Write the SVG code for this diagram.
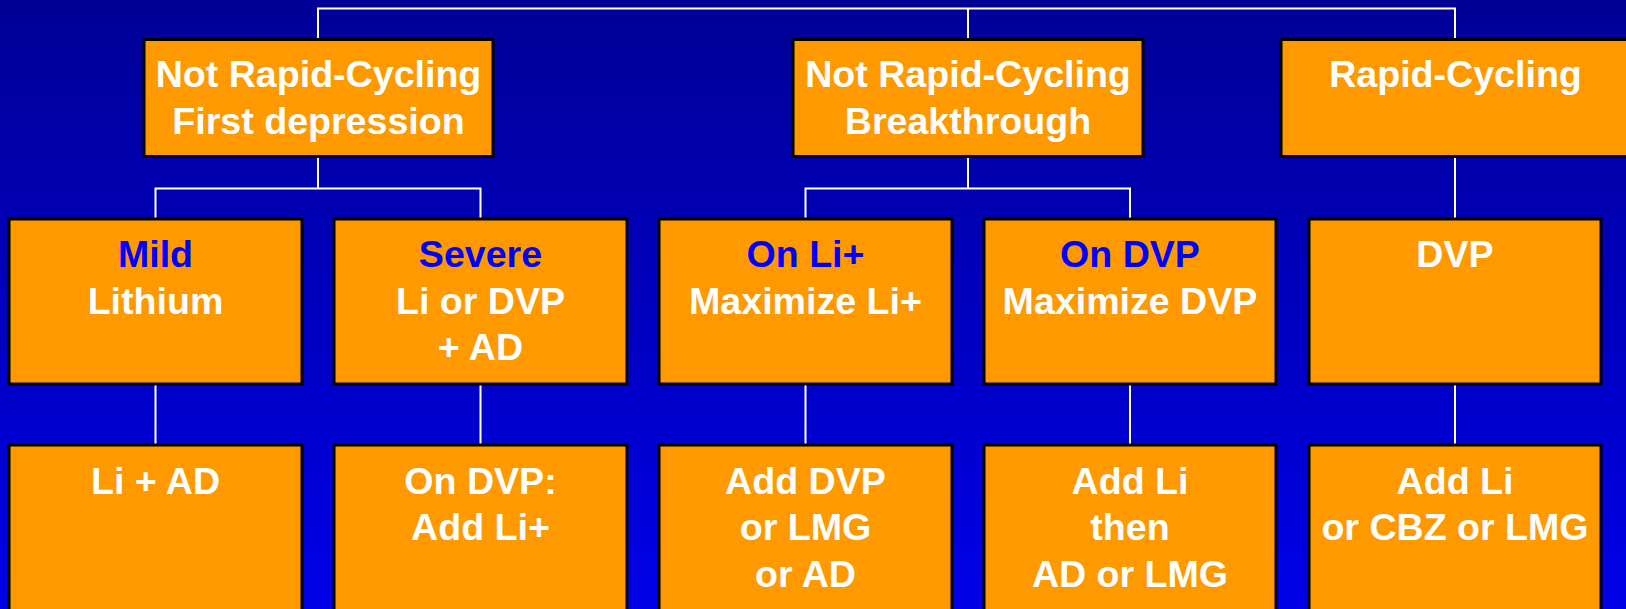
<svg xmlns="http://www.w3.org/2000/svg" width="1626" height="609" viewBox="0 0 1626 609">
  <defs>
    <linearGradient id="bg" x1="0" y1="0" x2="0" y2="1">
      <stop offset="0" stop-color="#000096"/>
      <stop offset="1" stop-color="#0000e8"/>
    </linearGradient>
    <style>
      .box { fill: #ff9900; stroke: #000; stroke-width: 3; }
      .t { font-family: "Liberation Sans", Arial, sans-serif; font-weight: bold; font-size: 37.6px; fill: #fff; text-anchor: middle; }
      .b { fill: #0000ff; }
      .wire { fill: none; stroke: #fff; stroke-width: 2; }
    </style>
  </defs>

  <rect width="1626" height="609" fill="url(#bg)"/>

  <!-- tree connectors -->
  <g id="connectors" class="wire">
    <path d="M318 40 V8.5 H1455 V40 M968 8.5 V40"/>
    <path d="M318 157 V188.5 M155.5 219 V188.5 H480.5 V219"/>
    <path d="M968 157 V188.5 M805.5 219 V188.5 H1130 V219"/>
    <path d="M1455 157 V219"/>
    <path d="M155.5 384 V445 M480.5 384 V445 M805.5 384 V445 M1130 384 V445 M1455 384 V445"/>
  </g>

  <!-- level 1 -->
  <g id="n-first">
    <rect class="box" x="144" y="39.5" width="349" height="117"/>
    <text class="t" x="318.5" y="87">Not Rapid-Cycling</text>
    <text class="t" x="318.5" y="133.5">First depression</text>
  </g>
  <g id="n-breakthrough">
    <rect class="box" x="793" y="39.5" width="350" height="117"/>
    <text class="t" x="968" y="87">Not Rapid-Cycling</text>
    <text class="t" x="968" y="133.5">Breakthrough</text>
  </g>
  <g id="n-rapid">
    <rect class="box" x="1281" y="39.5" width="350" height="117"/>
    <text class="t" x="1455.5" y="87">Rapid-Cycling</text>
  </g>

  <!-- level 2 -->
  <g id="n-mild">
    <rect class="box" x="9" y="219" width="293" height="165"/>
    <text class="t b" x="155.5" y="267">Mild</text>
    <text class="t" x="155.5" y="313.5">Lithium</text>
  </g>
  <g id="n-severe">
    <rect class="box" x="334" y="219" width="293" height="165"/>
    <text class="t b" x="480.5" y="267">Severe</text>
    <text class="t" x="480.5" y="313.5">Li or DVP</text>
    <text class="t" x="480.5" y="360">+ AD</text>
  </g>
  <g id="n-onli">
    <rect class="box" x="659" y="219" width="293" height="165"/>
    <text class="t b" x="805.5" y="267">On Li+</text>
    <text class="t" x="805.5" y="313.5">Maximize Li+</text>
  </g>
  <g id="n-ondvp">
    <rect class="box" x="984" y="219" width="292" height="165"/>
    <text class="t b" x="1130" y="267">On DVP</text>
    <text class="t" x="1130" y="313.5">Maximize DVP</text>
  </g>
  <g id="n-dvp">
    <rect class="box" x="1309" y="219" width="292" height="165"/>
    <text class="t" x="1455" y="267">DVP</text>
  </g>

  <!-- level 3 -->
  <g id="n-liad">
    <rect class="box" x="9" y="445" width="293" height="180"/>
    <text class="t" x="155.5" y="493.5">Li + AD</text>
  </g>
  <g id="n-addli">
    <rect class="box" x="334" y="445" width="293" height="180"/>
    <text class="t" x="480.5" y="493.5">On DVP:</text>
    <text class="t" x="480.5" y="540">Add Li+</text>
  </g>
  <g id="n-adddvp">
    <rect class="box" x="659" y="445" width="293" height="180"/>
    <text class="t" x="805.5" y="493.5">Add DVP</text>
    <text class="t" x="805.5" y="540">or LMG</text>
    <text class="t" x="805.5" y="586.5">or AD</text>
  </g>
  <g id="n-addli-then">
    <rect class="box" x="984" y="445" width="292" height="180"/>
    <text class="t" x="1130" y="493.5">Add Li</text>
    <text class="t" x="1130" y="540">then</text>
    <text class="t" x="1130" y="586.5">AD or LMG</text>
  </g>
  <g id="n-addli-cbz">
    <rect class="box" x="1309" y="445" width="292" height="180"/>
    <text class="t" x="1455" y="493.5">Add Li</text>
    <text class="t" x="1455" y="540">or CBZ or LMG</text>
  </g>
</svg>
